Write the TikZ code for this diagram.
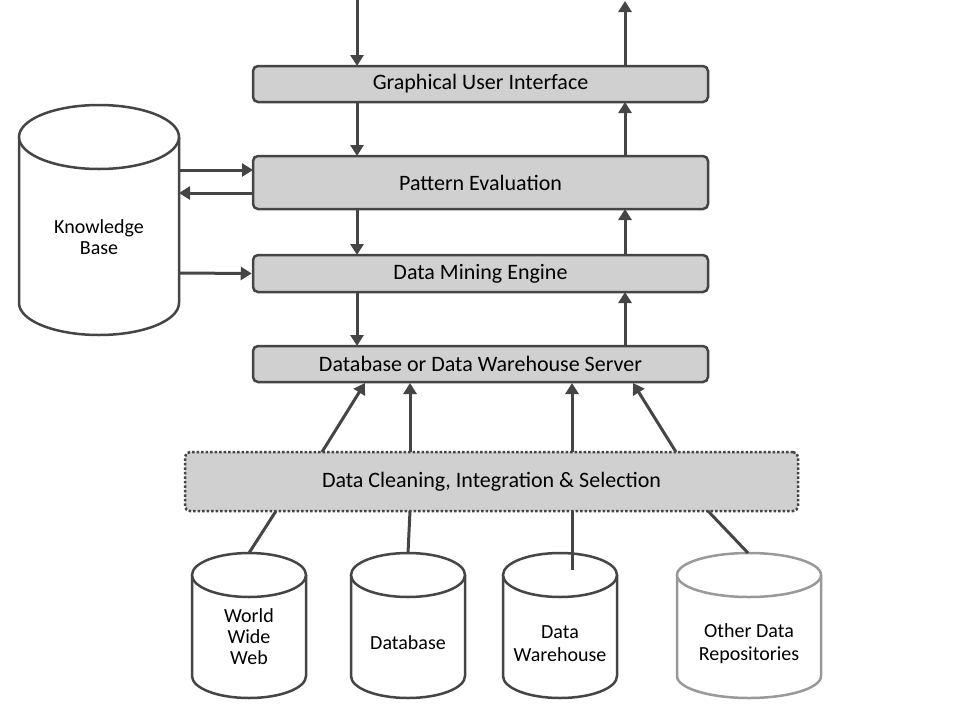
\documentclass[tikz,border=0pt]{standalone}
\usepackage{fontspec}
\setmainfont{Carlito}
\usetikzlibrary{arrows.meta}
\definecolor{ln}{HTML}{454545}
\definecolor{bx}{HTML}{D0D0D0}
\begin{document}
\begin{tikzpicture}[x=1pt,y=1pt,
  box/.style={draw=ln,fill=bx,line width=2.5pt,rounded corners=5pt,inner sep=0pt,font=\fontsize{22}{24}\selectfont},
  cyl/.style={draw=ln,fill=white,line width=2.5pt},
  ctext/.style={align=center,font=\fontsize{20}{29}\selectfont},
  arr/.style={draw=ln,line width=3pt,-{Triangle[length=11pt,width=13pt]}},
  lnk/.style={draw=ln,line width=3pt}]
\useasboundingbox (0,0) rectangle (960,-720);
% boxes
\node[box,minimum width=455pt,minimum height=36pt] (gui) at (480.5,-84) {Graphical User Interface};
\node[box,minimum width=455pt,minimum height=53pt] (pe) at (480.5,-182.5) {Pattern Evaluation};
\node[box,minimum width=455pt,minimum height=37pt] (dme) at (480.5,-273.5) {Data Mining Engine};
\node[box,minimum width=455pt,minimum height=36pt] (srv) at (480.5,-364) {Database or Data Warehouse Server};
\node[box,dotted,minimum width=613pt,minimum height=59pt] (dc) at (491.5,-481.5) {Data Cleaning, Integration \& Selection};
% knowledge base
\draw[cyl] (19,-137) -- (19,-303) arc[start angle=180,end angle=360,x radius=80,y radius=32] -- (179,-137);
\draw[cyl] (99,-137) ellipse[x radius=80,y radius=32];
\node[ctext] (kb) at (99,-237) {Knowledge\\[-8pt]Base};
% bottom cylinders
\draw[cyl] (192,-575) -- (192,-676) arc[start angle=180,end angle=360,x radius=57,y radius=22] -- (306,-575);
\draw[cyl] (249,-575) ellipse[x radius=57,y radius=22];
\draw[cyl] (351,-575) -- (351,-676) arc[start angle=180,end angle=360,x radius=57,y radius=22] -- (465,-575);
\draw[cyl] (408,-575) ellipse[x radius=57,y radius=22];
\draw[cyl] (503,-575) -- (503,-676) arc[start angle=180,end angle=360,x radius=57,y radius=22] -- (617,-575);
\draw[cyl] (560,-575) ellipse[x radius=57,y radius=22];
\draw[cyl,draw=gray!80] (677,-575) -- (677,-676) arc[start angle=180,end angle=360,x radius=72,y radius=22] -- (821,-575);
\draw[cyl,draw=gray!80] (749,-575) ellipse[x radius=72,y radius=22];
\coordinate (t1) at (249,-553);
\coordinate (t2) at (408,-553);
\coordinate (t3) at (560,-553);
\coordinate (t4) at (748,-553);
\node[ctext,font=\fontsize{20}{26}\selectfont] (www) at (249,-637) {World\\[-5pt]Wide\\[-5pt]Web};
\node[ctext] (db) at (408,-643) {Database};
\node[ctext] (dw) at (560,-644) {Data\\[-6pt]Warehouse};
\node[ctext] (odr) at (749,-644) {Other Data\\[-6pt]Repositories};
% top free ends
\coordinate (in) at (357,0);
\coordinate (out) at (625,-1);
% down arrows
\draw[arr] (in) -- (357,-66);
\draw[arr] (357,-102) -- (357,-156);
\draw[arr] (357,-209) -- (357,-255);
\draw[arr] (357,-292) -- (357,-346);
% up arrows
\draw[arr] (625,-66) -- (out);
\draw[arr] (625,-156) -- (625,-102);
\draw[arr] (625,-255) -- (625,-209);
\draw[arr] (625,-346) -- (625,-292);
% KB arrows
\draw[arr] (179,-170) -- (253,-170);
\draw[arr] (253,-193) -- (179,-193);
\draw[arr] (179,-273) -- (dme.west);
% cleaning to server
\draw[arr] (322,-452) -- (365,-383);
\draw[arr] (410,-452) -- (410,-383);
\draw[arr] (572,-452) -- (572,-383);
\draw[arr] (676,-452) -- (633,-383);
% sources to cleaning
\draw[lnk] (t1) -- (276,-511);
\draw[lnk] (t2) -- (410,-511);
\draw[lnk] (572,-570) -- (572,-511);
\draw[lnk] (t4) -- (708,-511);
\end{tikzpicture}
\end{document}
